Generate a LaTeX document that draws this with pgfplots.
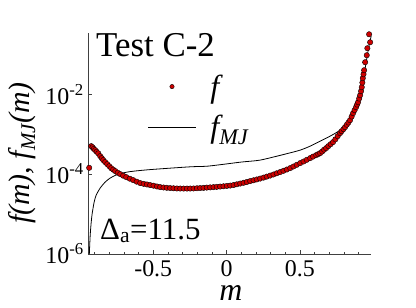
\documentclass[border=0pt]{standalone}
\usepackage{fontspec}
\setmainfont{Liberation Serif}
\newfontfamily\tnr{Liberation Serif}
\usepackage{pgfplots}
\usepackage{pgfplotstable}
\pgfplotsset{compat=1.18}
\definecolor{dotred}{RGB}{205,0,0}
\pgfplotsset{
  marklegend/.style={legend image code/.code={\draw[mark repeat=2,mark phase=2,##1,mark size=2.2bp] plot coordinates {(0bp,0bp) (24bp,0bp) (48bp,0bp)};}},
  linelegend/.style={legend image code/.code={\draw[##1] (0bp,0bp) -- (48bp,0bp);}},
}
\pgfplotstableread{
m f
-0.937 1.436e-4
-0.923 5.01e-4
-0.914 4.68e-4
-0.905 4.27e-4
-0.896 3.98e-4
-0.886 3.63e-4
-0.875 3.31e-4
-0.862 2.82e-4
-0.851 2.51e-4
-0.841 2.24e-4
-0.828 2.00e-4
-0.814 1.78e-4
-0.800 1.58e-4
-0.787 1.41e-4
-0.773 1.29e-4
-0.759 1.19e-4
-0.742 1.08e-4
-0.725 1.00e-4
-0.705 9.12e-5
-0.684 8.41e-5
-0.660 7.67e-5
-0.637 7.08e-5
-0.613 6.46e-5
-0.589 5.96e-5
-0.565 5.69e-5
-0.543 5.50e-5
-0.521 5.31e-5
-0.498 5.13e-5
-0.475 4.90e-5
-0.453 4.73e-5
-0.430 4.62e-5
-0.408 4.54e-5
-0.385 4.47e-5
-0.362 4.42e-5
-0.339 4.37e-5
-0.316 4.35e-5
-0.293 4.34e-5
-0.270 4.34e-5
-0.248 4.35e-5
-0.225 4.37e-5
-0.202 4.42e-5
-0.180 4.47e-5
-0.157 4.52e-5
-0.135 4.59e-5
-0.112 4.65e-5
-0.089 4.72e-5
-0.067 4.79e-5
-0.044 4.87e-5
-0.021 4.95e-5
0.002 5.06e-5
0.025 5.16e-5
0.048 5.33e-5
0.070 5.55e-5
0.093 5.79e-5
0.116 6.05e-5
0.138 6.35e-5
0.161 6.68e-5
0.184 7.00e-5
0.206 7.35e-5
0.229 7.72e-5
0.252 8.17e-5
0.274 8.65e-5
0.297 9.17e-5
0.320 9.77e-5
0.342 1.047e-4
0.365 1.122e-4
0.388 1.208e-4
0.411 1.303e-4
0.434 1.413e-4
0.456 1.549e-4
0.479 1.706e-4
0.502 1.884e-4
0.525 2.065e-4
0.547 2.275e-4
0.570 2.512e-4
0.590 2.742e-4
0.611 2.985e-4
0.625 3.162e-4
0.638 3.350e-4
0.652 3.673e-4
0.665 4.074e-4
0.679 4.467e-4
0.694 5.012e-4
0.710 5.623e-4
0.726 6.310e-4
0.742 7.413e-4
0.758 8.913e-4
0.774 1.059e-3
0.785 1.189e-3
0.797 1.334e-3
0.808 1.496e-3
0.820 1.718e-3
0.831 1.950e-3
0.842 2.239e-3
0.853 2.754e-3
0.863 3.350e-3
0.873 3.981e-3
0.883 4.732e-3
0.890 5.495e-3
0.897 6.310e-3
0.904 7.762e-3
0.911 9.441e-3
0.917 1.189e-2
0.922 1.496e-2
0.926 1.950e-2
0.929 2.512e-2
0.934 3.162e-2
0.938 3.981e-2
0.945 6.310e-2
0.956 9.441e-2
0.960 0.1413
0.979 0.1995
0.972 0.3162
}\fdata
\pgfplotstableread{
m f
-0.936 1.0e-6
-0.930 2.985e-6
-0.923 6.31e-6
-0.916 1.059e-5
-0.903 2.0e-5
-0.889 2.985e-5
-0.862 4.47e-5
-0.828 6.31e-5
-0.794 7.94e-5
-0.739 1.0e-4
-0.657 1.155e-4
-0.521 1.296e-4
-0.248 1.522e-4
-0.125 1.585e-4
0.100 2.0e-4
0.229 2.24e-4
0.399 3.16e-4
0.502 3.98e-4
0.570 5.01e-4
0.638 6.68e-4
0.706 8.91e-4
0.774 1.26e-3
0.829 2.11e-3
0.870 3.98e-3
0.904 8.91e-3
0.931 2.24e-2
0.952 6.31e-2
0.972 0.168
0.986 0.282
}\fmjdata
\begin{document}
\begin{tikzpicture}
\useasboundingbox (-88bp,-54bp) rectangle (328bp,254bp);
\begin{axis}[
  at={(0,0)}, anchor=south west,
  scale only axis, width=283bp, height=221bp,
  xmin=-0.945, xmax=0.985,
  ymode=log, ymin=1e-6, ymax=0.34,
  axis x line*=bottom, axis y line*=left,
  axis line style={black!75, line width=0.6pt, -},
  xtick={-0.5,0,0.5}, xticklabels={-0.5,0,0.5},
  minor xtick={-0.9,-0.8,-0.7,-0.6,-0.4,-0.3,-0.2,-0.1,0.1,0.2,0.3,0.4,0.6,0.7,0.8,0.9},
  ytick={1e-6,1e-4,1e-2},
  yticklabels={10\textsuperscript{-6},10\textsuperscript{-4},10\textsuperscript{-2}},
  tick align=inside,
  major tick length=4bp, minor tick length=2.5bp,
  tick style={black!75, line width=0.5pt},
  ticklabel style={font=\tnr\fontsize{24}{24}\selectfont, inner sep=1bp},
  xticklabel style={yshift=-5bp},
  yticklabel style={xshift=-3bp},
  clip=false,
  legend style={draw=none, fill=none, at={(rel axis cs:0.392,0.665)}, anchor=center,
    font=\tnr\fontsize{32}{38}\selectfont, row sep=13bp,
    /tikz/every odd column/.append style={column sep=12bp}},
  legend cell align=left,
]
\addplot[only marks, mark=*, mark size=2.7bp,
  mark options={fill=dotred, draw=black, line width=0.4pt}, marklegend]
  table[x=m, y=f] {\fdata};
\addlegendentry{\itshape f}
\addplot[black, line width=0.8pt, smooth, tension=0.4, linelegend]
  table[x=m, y=f] {\fmjdata};
\addlegendentry{\itshape f\textsubscript{MJ}}
\end{axis}
\node[anchor=base west, inner sep=0pt, font=\tnr\fontsize{35}{35}\selectfont] at (8bp,197bp) {Test C-2};
\node[anchor=base west, inner sep=0pt, font=\tnr\fontsize{31}{31}\selectfont] at (12bp,15bp) {Δ\textsubscript{a}=11.5};
\node[rotate=90, anchor=base, inner sep=0pt, font=\tnr\fontsize{30}{30}\selectfont\itshape] at (-58bp,101bp) {f(m), f\textsubscript{MJ}(m)};
\node[anchor=base, inner sep=0pt, font=\tnr\fontsize{32}{32}\selectfont\itshape] at (143bp,-46bp) {m};
\end{tikzpicture}
\end{document}
